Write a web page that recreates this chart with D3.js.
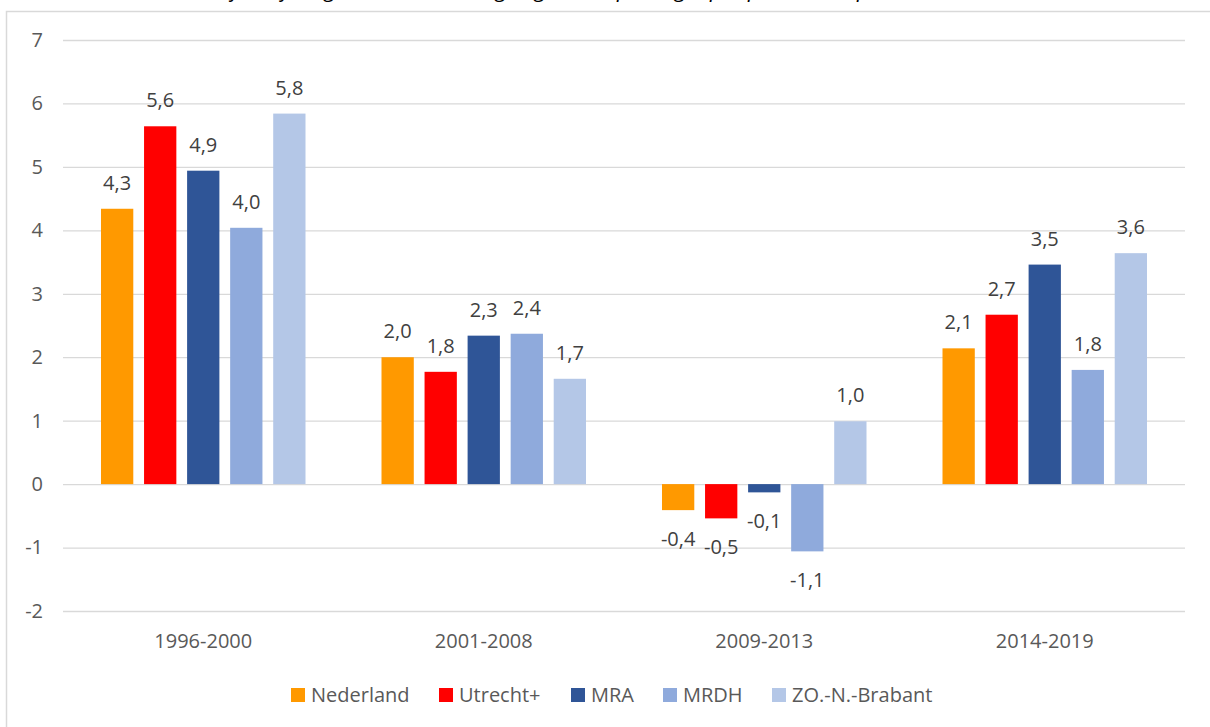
<!DOCTYPE html>
<html>
<head>
<meta charset="utf-8">
<script src="https://cdn.jsdelivr.net/npm/d3@7"></script>
<style>
  body { margin: 0; background: #fff; }
  svg { display: block; font-family: 'Open Sans', sans-serif; }
</style>
</head>
<body>
<div id="chart"></div>
<script>
// Data

const periods = ['1996-2000', '2001-2008', '2009-2013', '2014-2019'];
const regions = ['Nederland', 'Utrecht+', 'MRA', 'MRDH', 'ZO.-N.-Brabant'];
const colors = ['#ff9900', '#ff0000', '#2f5597', '#8faadc', '#b4c7e7'];

const nederland = [4.34, 2.0, -0.41, 2.14];
const utrecht = [5.64, 1.77, -0.54, 2.67];
const mra = [4.94, 2.34, -0.13, 3.46];
const mrdh = [4.04, 2.37, -1.06, 1.8];
const brabant = [5.84, 1.66, 0.99, 3.64];

const yTicks = [-2, -1, 0, 1, 2, 3, 4, 5, 6, 7];

const seriesValues = [nederland, utrecht, mra, mrdh, brabant];

const width = 1210;
const height = 727;

const svg = d3.select('#chart').append('svg')
  .attr('width', width)
  .attr('height', height);

// title sits mostly above the visible area, as in the original
svg.append('text')
  .attr('x', 590)
  .attr('y', -3)
  .attr('text-anchor', 'middle')
  .attr('font-style', 'italic')
  .attr('font-size', 22)
  .attr('fill', '#000')
  .text('Gemiddelde jaarlijkse groei van de werkgelegenheid per regio per periode, in procenten, 1996-2019');

// chart frame
svg.append('rect')
  .attr('x', 6.5)
  .attr('y', 11.5)
  .attr('width', width + 10)
  .attr('height', height + 10)
  .attr('fill', 'none')
  .attr('stroke', '#d9d9d9')
  .attr('stroke-width', 1.5);

const plot = { left: 63, right: 1185, top: 40, bottom: 611 };

const y = d3.scaleLinear().domain([-2, 7]).range([plot.bottom, plot.top]);
const x0 = d3.scaleBand().domain(periods).range([plot.left, plot.right]).paddingInner(0).paddingOuter(0);
const x1 = d3.scaleBand().domain(regions).range([38, x0.bandwidth() - 38]).paddingInner(0.25).paddingOuter(0);

// gridlines + y labels
const yAxis = d3.axisLeft(y)
  .tickValues(yTicks)
  .tickFormat(d => String(d))
  .tickSize(-(plot.right - plot.left))
  .tickPadding(20);
const yg = svg.append('g').attr('transform', `translate(${plot.left},0)`).call(yAxis);
yg.select('.domain').remove();
yg.selectAll('.tick line').attr('stroke', '#d9d9d9').attr('stroke-width', 1.3);
yg.selectAll('.tick text')
  .attr('font-size', 20)
  .attr('fill', '#595959')
  .attr('font-family', "'Open Sans', sans-serif");

// x labels
const xAxis = d3.axisBottom(x0).tickSize(0).tickPadding(0);
const xg = svg.append('g').attr('transform', `translate(0,${plot.bottom})`).call(xAxis);
xg.select('.domain').remove();
xg.selectAll('.tick text')
  .attr('y', 37)
  .attr('dy', null)
  .attr('font-size', 20)
  .attr('fill', '#595959')
  .attr('font-family', "'Open Sans', sans-serif");

// bars
const fmt = v => d3.format('.1f')(v).replace('.', ',').replace('−', '-');

periods.forEach((p, pi) => {
  const g = svg.append('g').attr('transform', `translate(${x0(p)},0)`);
  regions.forEach((r, ri) => {
    const v = seriesValues[ri][pi];
    g.append('rect')
      .attr('x', x1(r))
      .attr('width', x1.bandwidth())
      .attr('y', Math.min(y(v), y(0)))
      .attr('height', Math.abs(y(v) - y(0)))
      .attr('fill', colors[ri]);
    g.append('text')
      .attr('x', x1(r) + x1.bandwidth() / 2)
      .attr('y', v >= 0 ? y(v) - 19 : y(v) + 36)
      .attr('text-anchor', 'middle')
      .attr('font-size', 20)
      .attr('fill', '#404040')
      .text(fmt(v));
  });
});

// legend
const legendX = [291, 439, 571, 663, 772];
const legend = svg.append('g').attr('transform', 'translate(0,702)');
regions.forEach((r, i) => {
  legend.append('rect')
    .attr('x', legendX[i])
    .attr('y', -14)
    .attr('width', 14)
    .attr('height', 14)
    .attr('fill', colors[i]);
  legend.append('text')
    .attr('x', legendX[i] + 20)
    .attr('y', 0)
    .attr('font-size', 20)
    .attr('fill', '#595959')
    .text(r);
});
</script>
</body>
</html>
